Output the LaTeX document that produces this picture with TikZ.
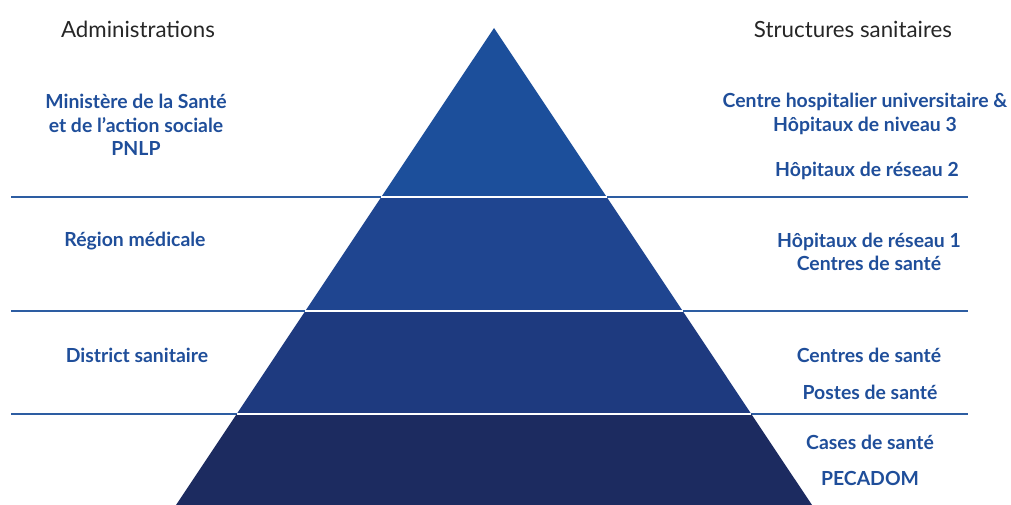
\documentclass[tikz,border=0pt]{standalone}
\usepackage{fontspec}
\setmainfont{Lato}
\begin{document}
\begin{tikzpicture}[x=1pt,y=-1pt,
  sep/.style={draw=linecol, line width=2.4pt},
  gap/.style={draw=white, line width=1.6pt},
  head/.style={font=\fontsize{22.3}{25}\selectfont, text=black!85, inner sep=0pt},
  lab/.style={font=\bfseries\fontsize{19.4}{23.5}\selectfont, text=textblue, align=center, inner sep=0pt}]
\definecolor{linecol}{HTML}{2D5DA2}
\definecolor{textblue}{HTML}{1F4E9A}
\definecolor{tierA}{HTML}{1C4F9B}
\definecolor{tierB}{HTML}{1F4590}
\definecolor{tierC}{HTML}{1E3A7F}
\definecolor{tierD}{HTML}{1C2B60}
\useasboundingbox (0,0) rectangle (1011,505);
% separator lines
\draw[sep] (11,197) -- (968,197);
\draw[sep] (11,311) -- (968,311);
\draw[sep] (11,414) -- (968,414);
% tiers
\fill[tierA] (494,28) -- (606.7,197) -- (381.3,197) -- cycle;
\fill[tierB] (381.3,197) -- (606.7,197) -- (682.7,311) -- (305.3,311) -- cycle;
\fill[tierC] (305.3,311) -- (682.7,311) -- (751.3,414) -- (236.7,414) -- cycle;
\fill[tierD] (236.7,414) -- (751.3,414) -- (812,505) -- (176,505) -- cycle;
\draw[gap] (381.3,197) -- (606.7,197);
\draw[gap] (305.3,311) -- (682.7,311);
\draw[gap] (236.7,414) -- (751.3,414);
% headers
\node[head] (hl) at (138,29) {Administrations};
\node[head] (hr) at (853,29) {Structures sanitaires};
% left labels
\node[lab] (l1) at (136,125) {Ministère de la Santé\\et de l’action sociale\\PNLP};
\node[lab] (l2) at (135,241) {Région médicale};
\node[lab] (l3) at (137,355) {District sanitaire};
% right labels
\node[lab] (r1) at (865,114) {Centre hospitalier universitaire \&\\Hôpitaux de niveau 3};
\node[lab] (r2) at (867,171) {Hôpitaux de réseau 2};
\node[lab] (r3) at (869,252) {Hôpitaux de réseau 1\\Centres de santé};
\node[lab] (r4) at (869,355) {Centres de santé};
\node[lab] (r5) at (870,392) {Postes de santé};
\node[lab] (r6) at (870,442) {Cases de santé};
\node[lab] (r7) at (870,478) {PECADOM};
\end{tikzpicture}
\end{document}
